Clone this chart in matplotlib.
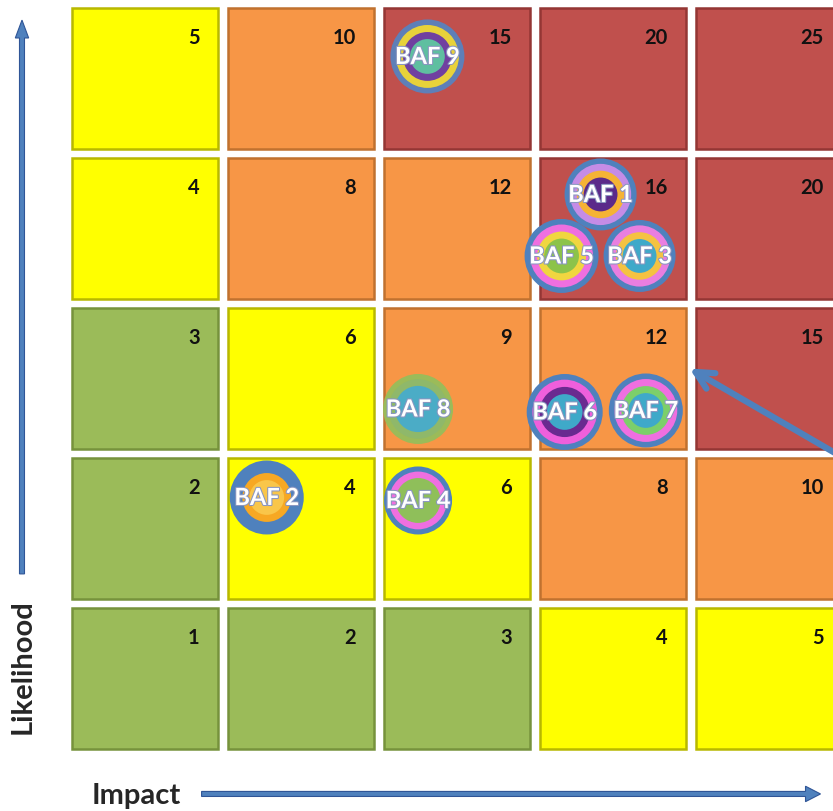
import matplotlib
matplotlib.use("Agg")
import matplotlib.pyplot as plt
from matplotlib.patches import Rectangle, FancyArrow
import matplotlib.patheffects as pe

# risk matrix: rows = likelihood 1..5 (bottom to top), cols = impact 1..5
impact = [1, 2, 3, 4, 5]
likelihood = [1, 2, 3, 4, 5]
scores = [[1, 2, 3, 4, 5],
          [2, 4, 6, 8, 10],
          [3, 6, 9, 12, 15],
          [4, 8, 12, 16, 20],
          [5, 10, 15, 20, 25]]
levels = [["G", "G", "G", "Y", "Y"],
          ["G", "Y", "Y", "O", "O"],
          ["G", "Y", "O", "O", "R"],
          ["Y", "O", "O", "R", "R"],
          ["Y", "O", "R", "R", "R"]]

# bubbles (estimated position on the impact / likelihood grid)
baf_names = ["BAF 1", "BAF 2", "BAF 3", "BAF 4", "BAF 5", "BAF 6", "BAF 7", "BAF 8", "BAF 9"]
baf_impact = [3.92, 1.78, 4.17, 2.75, 3.67, 3.69, 4.21, 2.75, 2.81]
baf_likelihood = [4.23, 2.21, 3.82, 2.19, 3.82, 2.78, 2.79, 2.80, 5.15]

fill = {"G": "#9bbb59", "Y": "#ffff00", "O": "#f79646", "R": "#c0504d"}
edge = {"G": "#76923c", "Y": "#b8b800", "O": "#c0712f", "R": "#943634"}

rings = {
    "BAF 1": ["#4f81bd", "#c58ce6", "#f5b335", "#5b2a8a"],
    "BAF 2": ["#4f81bd", "#4f81bd", "#f7a823", "#f9c64a"],
    "BAF 3": ["#4f81bd", "#e97ee0", "#f5c242", "#3fa9c9"],
    "BAF 4": ["#4f81bd", "#ef6fe0", "#8fbf5a", "#8fbf5a"],
    "BAF 5": ["#4f81bd", "#ef6fe0", "#f0d640", "#8cc34a"],
    "BAF 6": ["#4f81bd", "#ef5fdc", "#6a2a90", "#3fa9c9"],
    "BAF 7": ["#4f81bd", "#ef6fe0", "#7ccf6a", "#3fa9c9"],
    "BAF 8": ["#9bbb59", "#8fb86a", "#4bacc6", "#4bacc6"],
    "BAF 9": ["#5e7fb8", "#e8d23a", "#7040a0", "#5fbfa0"],
}
radius_px = {"BAF 1": 36, "BAF 2": 37, "BAF 3": 36, "BAF 4": 34, "BAF 5": 37,
             "BAF 6": 38, "BAF 7": 37, "BAF 8": 35, "BAF 9": 37}
ring_frac = [1.0, 0.85, 0.66, 0.47]

plt.rcParams["font.family"] = ["Lato", "DejaVu Sans"]

fig = plt.figure(figsize=(8.33, 8.12), dpi=100)
ax = fig.add_axes([0, 0, 1, 1])
ax.set_xlim(0.07, 5.41)
ax.set_ylim(0.12, 5.533)
ax.axis("off")

half = 0.47
for r, L in enumerate(likelihood):
    for c, I in enumerate(impact):
        lv = levels[r][c]
        ax.add_patch(Rectangle((I - half, L - half), 2 * half, 2 * half,
                               facecolor=fill[lv], edgecolor=edge[lv], lw=1.8, zorder=1))
        ax.text(I + half - 0.12, L + half - 0.19, str(scores[r][c]), ha="right", va="center",
                fontsize=14.5, fontweight="bold", color="#111111", zorder=2)

for name, x, y in zip(baf_names, baf_impact, baf_likelihood):
    rp = radius_px[name]
    for col, fr in zip(rings[name], ring_frac):
        d_pt = 2 * rp * fr * 72 / 100
        ax.scatter([x], [y], s=d_pt ** 2, color=col, edgecolors="none", zorder=3)
    ax.text(x, y, name, ha="center", va="center", fontsize=17, fontweight="bold",
            color="white", zorder=4,
            path_effects=[pe.withStroke(linewidth=1.5, foreground="#8a96c0")])

# pointer arrow coming from the right
ax.annotate("", xy=(4.49, 3.07), xytext=(5.5, 2.46),
            arrowprops=dict(arrowstyle="->", color="#4f81bd", lw=4.5,
                            mutation_scale=32, shrinkA=0, shrinkB=0), zorder=5)

# axis arrows and titles
fig.patches.append(FancyArrow(
    0.0264, 0.292, 0, 0.66, width=0.006, head_width=0.016, head_length=0.022,
    transform=fig.transFigure, color="#4f81bd", ec="#2f5597", lw=0.8))
fig.patches.append(FancyArrow(
    0.242, 0.021, 0.725, 0, width=0.0062, head_width=0.019, head_length=0.018,
    transform=fig.transFigure, color="#4f81bd", ec="#2f5597", lw=0.8))
fig.text(0.027, 0.179, "Likelihood", rotation=90, ha="center", va="center",
         fontsize=21, fontweight="bold", color="#262626")
fig.text(0.163, 0.02, "Impact", ha="center", va="center",
         fontsize=21, fontweight="bold", color="#262626")

fig.savefig("out.png", dpi=100)
